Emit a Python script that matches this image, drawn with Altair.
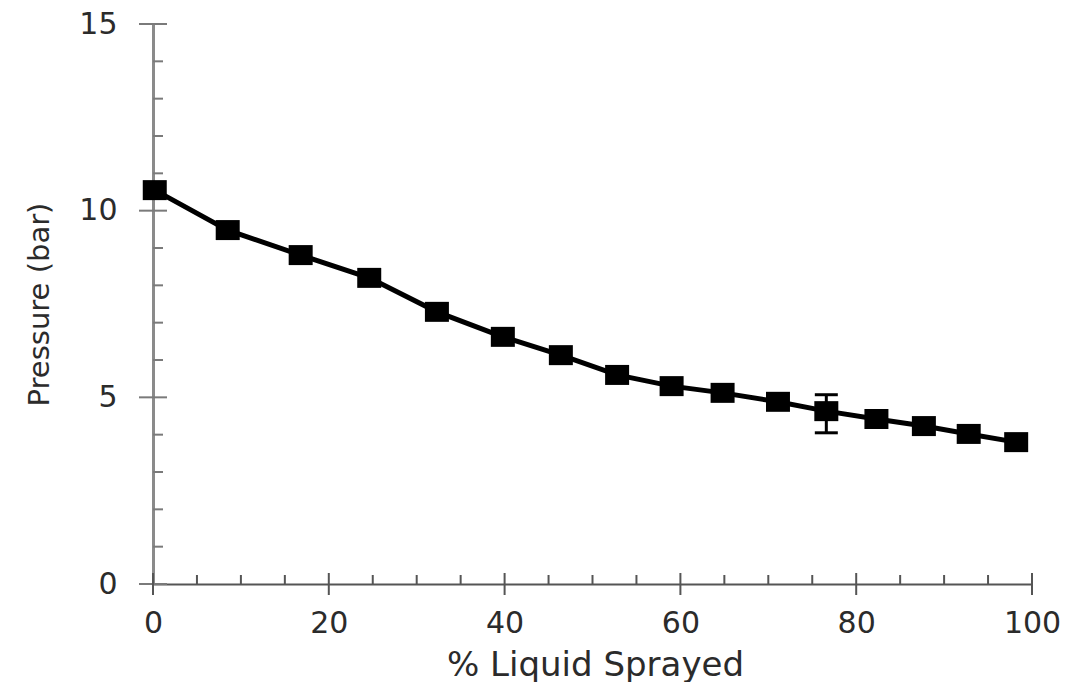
import altair as alt
import pandas as pd

# Data
pct_sprayed = [0.2, 8.5, 16.8, 24.6, 32.3, 39.8, 46.4, 52.8, 59.0, 64.8, 71.1, 76.6, 82.3, 87.7, 92.8, 98.2]
pressure = [10.55, 9.48, 8.81, 8.20, 7.29, 6.62, 6.13, 5.60, 5.30, 5.12, 4.88, 4.63, 4.42, 4.23, 4.02, 3.80]

err_x = [76.6]
err_lo = [4.05]
err_hi = [5.07]

x_major = [0, 20, 40, 60, 80, 100]
x_minor = [5, 10, 15, 25, 30, 35, 45, 50, 55, 65, 70, 75, 85, 90, 95]
y_major = [0, 5, 10, 15]
y_minor = [1, 2, 3, 4, 6, 7, 8, 9, 11, 12, 13, 14]

W, H = 879, 560
TXT = "#2b2b2b"

df = pd.DataFrame({"x": pct_sprayed, "y": pressure})
df_err = pd.DataFrame({"x": err_x, "lo": err_lo, "hi": err_hi})
df_xmaj = pd.DataFrame({"x": x_major})
df_xmin = pd.DataFrame({"x": x_minor})
df_ymaj = pd.DataFrame({"y": y_major})
df_ymin = pd.DataFrame({"y": y_minor})

xscale = alt.Scale(domain=[0, 100], nice=False, zero=False)
yscale = alt.Scale(domain=[0, 15], nice=False, zero=False)

axis_x = alt.Axis(
    values=x_major, ticks=False, grid=False, labelPadding=24, labelFlush=False,
    labelFont="DejaVu Sans", labelFontSize=30, labelColor=TXT,
    domainColor="#555555", domainWidth=2,
    title="% Liquid Sprayed", titleFont="DejaVu Sans", titleFontSize=34,
    titleFontWeight="normal", titleColor=TXT,
    titleX=442, titleY=91, titleBaseline="alphabetic", titleAlign="center",
)
axis_y = alt.Axis(
    values=y_major, ticks=False, grid=False, labelPadding=36, labelFlush=False,
    labelFont="DejaVu Sans", labelFontSize=30, labelColor=TXT,
    domainColor="#8a8a8a", domainWidth=3,
    title="Pressure (bar)", titleFont="DejaVu Sans", titleFontSize=29,
    titleFontWeight="normal", titleColor=TXT, titleAngle=270,
    titleX=-105, titleY=280, titleBaseline="alphabetic", titleAlign="center",
)


def X(field):
    return alt.X(field, type="quantitative", scale=xscale, axis=axis_x, title="% Liquid Sprayed")


def Y(field):
    return alt.Y(field, type="quantitative", scale=yscale, axis=axis_y, title="Pressure (bar)")


line = alt.Chart(df).mark_line(color="black", strokeWidth=5).encode(x=X("x"), y=Y("y"))

rect_shape = "M-1.2,-1H1.2V1H-1.2Z"
points = alt.Chart(df).mark_point(
    shape=rect_shape, filled=True, color="black", opacity=1, size=400
).encode(x=X("x"), y=Y("y"))

err_rule = alt.Chart(df_err).mark_rule(color="black", strokeWidth=3).encode(
    x=X("x"), y=Y("lo"), y2="hi"
)
cap_lo = alt.Chart(df_err).mark_tick(color="black", orient="horizontal", size=23, thickness=3, opacity=1).encode(
    x=X("x"), y=Y("lo")
)
cap_hi = alt.Chart(df_err).mark_tick(color="black", orient="horizontal", size=23, thickness=3, opacity=1).encode(
    x=X("x"), y=Y("hi")
)

tick_col = "#7a7a7a"
ymaj_ticks = alt.Chart(df_ymaj).mark_tick(color=tick_col, orient="horizontal", size=28, thickness=2, opacity=1).encode(
    y=Y("y"), x=alt.value(0)
)
ymin_ticks = alt.Chart(df_ymin).mark_tick(color=tick_col, orient="horizontal", size=10, thickness=2, opacity=1).encode(
    y=Y("y"), x=alt.value(5)
)
xmaj_ticks = alt.Chart(df_xmaj).mark_tick(color="#555555", orient="vertical", size=22, thickness=2, opacity=1).encode(
    x=X("x"), y=alt.value(H)
)
xmin_ticks = alt.Chart(df_xmin).mark_tick(color="#555555", orient="vertical", size=9, thickness=2, opacity=1).encode(
    x=X("x"), y=alt.value(H - 4.5)
)

chart = alt.layer(
    ymin_ticks, ymaj_ticks, xmin_ticks, xmaj_ticks,
    line, err_rule, cap_lo, cap_hi, points,
).properties(
    width=W, height=H,
    autosize=alt.AutoSizeParams(type="none"),
    padding={"left": 145, "top": 16, "right": 31, "bottom": 98},
    background="white",
).configure_view(stroke=None)

chart.save("out.html", embed_options={"renderer": "svg", "actions": False})
